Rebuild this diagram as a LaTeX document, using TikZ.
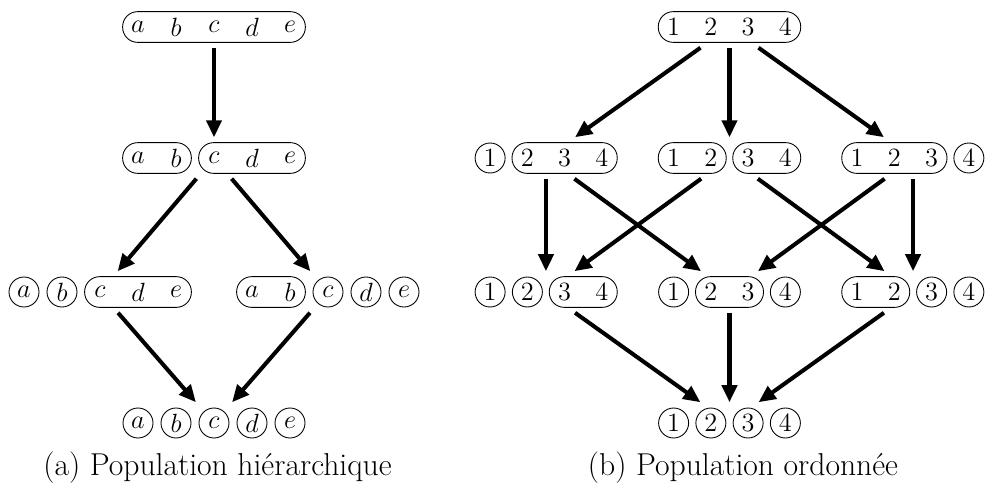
\RequirePackage{fix-cm}
\documentclass[tikz,border=0pt]{standalone}
\usetikzlibrary{fit,arrows.meta}

\tikzset{
  elt/.style={circle, minimum size=0.6cm, inner sep=0pt, font=\fontsize{15}{17}\selectfont},
  ball/.style={elt, draw, line width=0.5pt},
  pill/.style={draw, line width=0.5pt, rounded corners=0.3cm, inner sep=0pt, fit=#1},
  grp/.style={inner xsep=0pt, inner ysep=0.1cm, fit=#1},
  fleche/.style={-{Triangle[length=0.34cm,width=0.3cm]}, line width=2.3pt},
  legende/.style={anchor=base, font=\fontsize{18}{22}\selectfont},
}

\begin{document}
\begin{tikzpicture}
\useasboundingbox (0,0) rectangle (19.96,9.8);

% (a) hierarchical
\foreach \t/\s [count=\i] in {a/elt,b/elt,c/elt,d/elt,e/elt}
\node[\s] (la\i) at ({4.28+(\i-3)*0.76},9.26) {$\t$};
\node[pill=(la1)(la5)] (lapill) {};
\node[grp=(la1)(la5)] (LA) {};

\foreach \t/\s [count=\i] in {a/elt,b/elt,c/elt,d/elt,e/elt}
\node[\s] (lb\i) at ({4.28+(\i-3)*0.76},6.64) {$\t$};
\node[pill=(lb1)(lb2)] (lbpill1) {};
\node[pill=(lb3)(lb5)] (lbpill2) {};
\node[grp=(lb1)(lb5)] (LB) {};

\foreach \t/\s [count=\i] in {a/ball,b/ball,c/elt,d/elt,e/elt}
\node[\s] (lc\i) at ({2.00+(\i-3)*0.76},3.96) {$\t$};
\node[pill=(lc3)(lc5)] (lcpill) {};
\node[grp=(lc1)(lc5)] (LC) {};

\foreach \t/\s [count=\i] in {a/elt,b/elt,c/ball,d/ball,e/ball}
\node[\s] (ld\i) at ({6.56+(\i-3)*0.76},3.96) {$\t$};
\node[pill=(ld1)(ld2)] (ldpill) {};
\node[grp=(ld1)(ld5)] (LD) {};

\foreach \t [count=\i] in {a,b,c,d,e}
\node[ball] (le\i) at ({4.28+(\i-3)*0.76},1.34) {$\t$};
\node[grp=(le1)(le5)] (LE) {};

\draw[fleche] (LA) -- (LB);
\draw[fleche] (LB) -- (LC);
\draw[fleche] (LB) -- (LD);
\draw[fleche] (LC) -- (LE);
\draw[fleche] (LD) -- (LE);

\node[legende] (capa) at (4.35,0.30) {(a) Population hiérarchique};

% (b) ordered
\foreach \i in {1,...,4}
\node[elt] (ra\i) at ({13.4725+(\i-1)*0.745},9.26) {$\i$};
\node[pill=(ra1)(ra4)] (rapill) {};
\node[grp=(ra1)(ra4)] (RA) {};

\foreach \s [count=\i] in {ball,elt,elt,elt}
\node[\s] (rb\i) at ({13.4725-3.67+(\i-1)*0.745},6.64) {$\i$};
\node[pill=(rb2)(rb4)] (rbpill) {};
\node[grp=(rb1)(rb4)] (RB) {};

\foreach \i in {1,...,4}
\node[elt] (rc\i) at ({13.4725+(\i-1)*0.745},6.64) {$\i$};
\node[pill=(rc1)(rc2)] (rcpill1) {};
\node[pill=(rc3)(rc4)] (rcpill2) {};
\node[grp=(rc1)(rc4)] (RC) {};

\foreach \s [count=\i] in {elt,elt,elt,ball}
\node[\s] (rd\i) at ({13.4725+3.67+(\i-1)*0.745},6.64) {$\i$};
\node[pill=(rd1)(rd3)] (rdpill) {};
\node[grp=(rd1)(rd4)] (RD) {};

\foreach \s [count=\i] in {ball,ball,elt,elt}
\node[\s] (re\i) at ({13.4725-3.67+(\i-1)*0.745},3.96) {$\i$};
\node[pill=(re3)(re4)] (repill) {};
\node[grp=(re1)(re4)] (RE) {};

\foreach \s [count=\i] in {ball,elt,elt,ball}
\node[\s] (rf\i) at ({13.4725+(\i-1)*0.745},3.96) {$\i$};
\node[pill=(rf2)(rf3)] (rfpill) {};
\node[grp=(rf1)(rf4)] (RF) {};

\foreach \s [count=\i] in {elt,elt,ball,ball}
\node[\s] (rg\i) at ({13.4725+3.67+(\i-1)*0.745},3.96) {$\i$};
\node[pill=(rg1)(rg2)] (rgpill) {};
\node[grp=(rg1)(rg4)] (RG) {};

\foreach \i in {1,...,4}
\node[ball] (rh\i) at ({13.4725+(\i-1)*0.745},1.34) {$\i$};
\node[grp=(rh1)(rh4)] (RH) {};

\draw[fleche] (RA) -- (RB);
\draw[fleche] (RA) -- (RC);
\draw[fleche] (RA) -- (RD);
\draw[fleche] (RB) -- (RE);
\draw[fleche] (RB) -- (RF);
\draw[fleche] (RC) -- (RE);
\draw[fleche] (RC) -- (RG);
\draw[fleche] (RD) -- (RF);
\draw[fleche] (RD) -- (RG);
\draw[fleche] (RE) -- (RH);
\draw[fleche] (RF) -- (RH);
\draw[fleche] (RG) -- (RH);

\node[legende] (capb) at (14.86,0.30) {(b) Population ordonnée};
\end{tikzpicture}
\end{document}
